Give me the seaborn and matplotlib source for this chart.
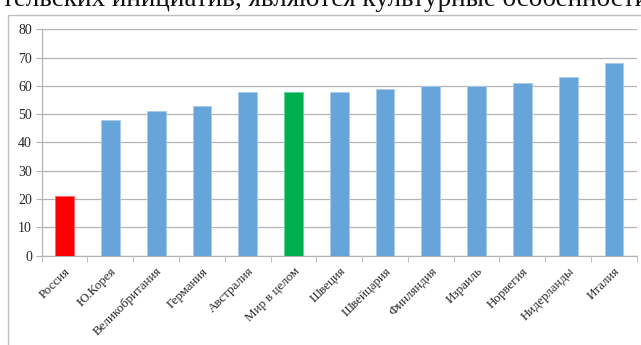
import matplotlib
matplotlib.use("Agg")
import matplotlib.pyplot as plt
import seaborn as sns
import pandas as pd
from matplotlib.patches import Rectangle

countries = ['Россия', 'Ю.Корея', 'Великобритания', 'Германия', 'Австралия', 'Мир в целом',
             'Швеция', 'Швейцария', 'Финляндия', 'Израиль', 'Норвегия', 'Нидерланды', 'Италия']
values = [21, 48, 51, 53, 58, 58, 58, 59, 60, 60, 61, 63, 68]
bar_colors = ['#FF0000'] + ['#67A4D9'] * 4 + ['#00B050'] + ['#67A4D9'] * 7
yticks = [0, 10, 20, 30, 40, 50, 60, 70, 80]

df = pd.DataFrame({'country': countries, 'value': values})

sns.set_style('white')
plt.rcParams['font.family'] = ['Liberation Serif', 'DejaVu Serif']

fig = plt.figure(figsize=(6.41, 3.45), dpi=100)
ax = fig.add_axes([0.065, 0.259, 0.9285, 0.656])

# outer chart frame (extends past the image bottom/right)
fig.patches.append(Rectangle((8 / 641, -0.2), 1.2, 1.2 - 0.2 + (0.2 - 15 / 345),
                             transform=fig.transFigure, fill=False,
                             edgecolor='#BFBFBF', linewidth=1.0, zorder=0))

# cut-off sentence from the document above the chart
fig.text(0.003, 1 - 6.5 / 345, 'тельских инициатив, являются культурные особенности',
         fontsize=19.5, va='baseline', ha='left', color='#111111')

sns.barplot(data=df, x='country', y='value', hue='country', palette=bar_colors,
            legend=False, width=0.41, saturation=1, ax=ax, zorder=3,
            edgecolor='#A9CBEA', linewidth=0.6)
for patch, c in zip(ax.patches, bar_colors):
    if c == '#FF0000':
        patch.set_edgecolor('#FF6666')
    elif c == '#00B050':
        patch.set_edgecolor('#66D399')

ax.set_ylim(0, 80)
ax.set_xlim(-0.5, len(countries) - 0.5)
ax.set_yticks(yticks)
ax.set_yticklabels([str(t) for t in yticks], fontsize=10)
ax.grid(axis='y', color='#B4B4B4', linewidth=0.9, zorder=0)
ax.grid(axis='x', visible=False)

ax.set_xticks(range(len(countries)))
ax.set_xticklabels(countries, rotation=45, ha='right', rotation_mode='anchor', fontsize=9.4)
ax.tick_params(axis='x', length=0, pad=7)
ax.tick_params(axis='y', length=4, color='#B4B4B4', left=True, pad=3, direction='out')
# Excel style tick marks between categories
ax.set_xticks([i - 0.5 for i in range(len(countries) + 1)], minor=True)
ax.tick_params(axis='x', which='minor', length=4, color='#B4B4B4', bottom=True, direction='out')

for s in ['top', 'right']:
    ax.spines[s].set_visible(False)
ax.spines['left'].set_color('#B4B4B4')
ax.spines['bottom'].set_color('#B4B4B4')
ax.spines['left'].set_linewidth(0.9)
ax.spines['bottom'].set_linewidth(0.9)
ax.set_xlabel('')
ax.set_ylabel('')

fig.savefig('out.png', dpi=100)
